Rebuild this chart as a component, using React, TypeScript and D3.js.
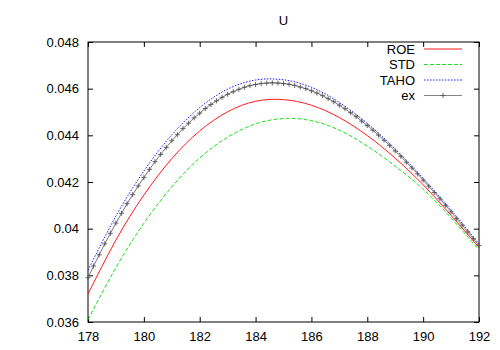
import { useEffect, useRef } from 'react';
import * as d3 from 'd3';

// ==========================================
// DATA
// ==========================================
const title = 'U';

const years = [178, 179, 180, 181, 182, 183, 184, 185, 186, 187, 188, 189, 190, 191, 192];

const roe = [0.0372, 0.03951, 0.04144, 0.043, 0.04419, 0.04501, 0.04546, 0.04553, 0.04529, 0.04476, 0.04399, 0.04302, 0.04188, 0.04057, 0.0392];
const std = [0.0361, 0.03833, 0.04023, 0.04179, 0.04303, 0.04392, 0.04449, 0.04472, 0.04463, 0.04422, 0.04354, 0.04268, 0.04169, 0.04046, 0.03909];
const taho = [0.03822, 0.04054, 0.04247, 0.04402, 0.04519, 0.04598, 0.04637, 0.04638, 0.04606, 0.04541, 0.04451, 0.04341, 0.04215, 0.0408, 0.03935];

// "ex" is sampled every 0.2 starting at 178
const exStart = 178;
const exStep = 0.2;
const ex = [
  0.0379, 0.0384, 0.03888, 0.03935, 0.0398, 0.04024, 0.04066, 0.04107, 0.04146, 0.04183,
  0.04219, 0.04254, 0.04287, 0.04318, 0.04348, 0.04377, 0.04403, 0.04429, 0.04452, 0.04475,
  0.04495, 0.04515, 0.04532, 0.04548, 0.04563, 0.04576, 0.04587, 0.04597, 0.04606, 0.04613,
  0.04618, 0.04622, 0.04624, 0.04625, 0.04624, 0.04622, 0.04619, 0.04614, 0.04607, 0.046,
  0.04591, 0.04581, 0.0457, 0.04557, 0.04544, 0.04529, 0.04514, 0.04497, 0.0448, 0.04461,
  0.04442, 0.04422, 0.04401, 0.04379, 0.04357, 0.04333, 0.0431, 0.04285, 0.0426, 0.04235,
  0.04208, 0.04182, 0.04155, 0.04128, 0.041, 0.04072, 0.04043, 0.04015, 0.03986, 0.03957,
  0.03928,
];

const xTicks = [178, 180, 182, 184, 186, 188, 190, 192];
const yTicks = [0.036, 0.038, 0.04, 0.042, 0.044, 0.046, 0.048];

const legendLabels = ['ROE', 'STD', 'TAHO', 'ex'];

const App = () => {
  const svgRef = useRef<SVGSVGElement>(null);

  useEffect(() => {
    document.body.style.margin = '0';

    const svg = d3.select(svgRef.current);
    svg.selectAll('*').remove();

    // ==========================================
    // SVG SETUP
    // ==========================================
    const width = 500;
    const height = 350;
    const margin = { top: 42, right: 21, bottom: 28, left: 88 };
    const font = 'Liberation Sans, Arial, sans-serif';

    svg.attr('width', width).attr('height', height).style('display', 'block');

    // ==========================================
    // SCALES
    // ==========================================
    const x = d3.scaleLinear().domain([178, 192]).range([margin.left, width - margin.right]);
    const y = d3.scaleLinear().domain([0.036, 0.048]).range([height - margin.bottom, margin.top]);

    const fmt = (d: number) => String(+d.toFixed(3));
    const tick = 5;

    // ==========================================
    // AXES (gnuplot style: ticks inward, mirrored)
    // ==========================================
    const axisG = svg.append('g').attr('font-family', font).attr('font-size', 13);

    const bottom = axisG.append('g')
      .attr('transform', `translate(0,${height - margin.bottom})`)
      .call(d3.axisBottom(x).tickValues(xTicks).tickSize(-tick).tickPadding(10).tickFormat((d) => fmt(+d)));
    const top = axisG.append('g')
      .attr('transform', `translate(0,${margin.top})`)
      .call(d3.axisTop(x).tickValues(xTicks).tickSize(-tick).tickFormat(() => ''));
    const left = axisG.append('g')
      .attr('transform', `translate(${margin.left},0)`)
      .call(d3.axisLeft(y).tickValues(yTicks).tickSize(-tick).tickPadding(9).tickFormat((d) => fmt(+d)));
    const right = axisG.append('g')
      .attr('transform', `translate(${width - margin.right},0)`)
      .call(d3.axisRight(y).tickValues(yTicks).tickSize(-tick).tickFormat(() => ''));

    [bottom, top, left, right].forEach((g) => {
      g.select('.domain').remove();
      g.selectAll('line').attr('stroke', '#000');
      g.selectAll('text').attr('fill', '#000').attr('font-family', font).attr('font-size', 13);
    });

    // border
    svg.append('rect')
      .attr('x', margin.left)
      .attr('y', margin.top)
      .attr('width', width - margin.left - margin.right)
      .attr('height', height - margin.top - margin.bottom)
      .attr('fill', 'none')
      .attr('stroke', '#000')
      .attr('stroke-width', 1);

    // title
    svg.append('text')
      .attr('x', (margin.left + width - margin.right) / 2)
      .attr('y', 25)
      .attr('text-anchor', 'middle')
      .attr('font-family', font)
      .attr('font-size', 13)
      .text(title);

    // ==========================================
    // LINES
    // ==========================================
    const series = [
      { label: legendLabels[0], values: roe, color: '#ff0000', dash: null },
      { label: legendLabels[1], values: std, color: '#00e000', dash: '4,2' },
      { label: legendLabels[2], values: taho, color: '#0000ff', dash: '1.5,1.5' },
    ];

    const smooth = d3.line<number>()
      .x((_, i) => x(years[i]))
      .y((d) => y(d))
      .curve(d3.curveNatural);

    series.forEach((s) => {
      svg.append('path')
        .datum(s.values)
        .attr('fill', 'none')
        .attr('stroke', s.color)
        .attr('stroke-width', 0.9)
        .attr('stroke-dasharray', s.dash)
        .attr('d', smooth);
    });

    const exLine = d3.line<number>()
      .x((_, i) => x(exStart + i * exStep))
      .y((d) => y(d));

    svg.append('path')
      .datum(ex)
      .attr('fill', 'none')
      .attr('stroke', '#777')
      .attr('stroke-width', 1)
      .attr('d', exLine);

    const plus = (g: d3.Selection<SVGGElement, unknown, null, undefined>, cx: number, cy: number) => {
      g.append('path')
        .attr('d', `M${cx - 2.5},${cy}H${cx + 2.5}M${cx},${cy - 2.5}V${cy + 2.5}`)
        .attr('stroke', '#555')
        .attr('stroke-width', 0.9)
        .attr('fill', 'none');
    };

    const marks = svg.append('g');
    ex.forEach((d, i) => plus(marks, x(exStart + i * exStep), y(d)));

    // ==========================================
    // LEGEND
    // ==========================================
    const legend = svg.append('g').attr('font-family', font).attr('font-size', 13);
    const lx = 415;
    const ly = 49;
    const step = 15.5;

    legendLabels.forEach((label, i) => {
      const cy = ly + i * step;
      legend.append('text')
        .attr('x', lx)
        .attr('y', cy)
        .attr('dy', '0.35em')
        .attr('text-anchor', 'end')
        .text(label);

      const s = series[i];
      legend.append('line')
        .attr('x1', lx + 9)
        .attr('x2', lx + 47)
        .attr('y1', cy)
        .attr('y2', cy)
        .attr('stroke', s ? s.color : '#777')
        .attr('stroke-width', 0.9)
        .attr('stroke-dasharray', s ? s.dash : null);

      if (!s) plus(legend, lx + 28, cy);
    });
  }, []);

  return (
    <div>
      <svg ref={svgRef}></svg>
    </div>
  );
};

export default App;
